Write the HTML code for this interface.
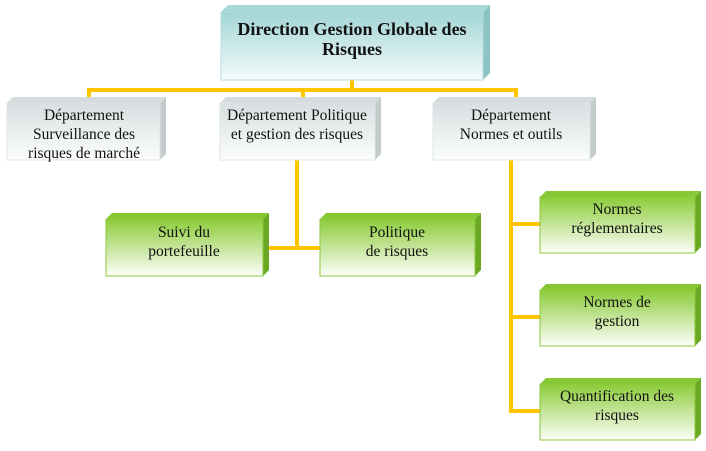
<!DOCTYPE html>
<html><head><meta charset="utf-8"><style>
html,body{margin:0;padding:0;background:#fff;width:706px;height:451px;overflow:hidden}
text{font-family:"Liberation Serif",serif;fill:#111;text-anchor:middle}
</style></head><body>
<svg width="706" height="451" viewBox="0 0 706 451" xmlns="http://www.w3.org/2000/svg">
<defs>
<linearGradient id="gt" x1="0" y1="0" x2="0" y2="1"><stop offset="0" stop-color="#a3d5d5"/><stop offset="1" stop-color="#f6fbfb"/></linearGradient>
<linearGradient id="gg" x1="0" y1="0" x2="0" y2="1"><stop offset="0" stop-color="#d8dfe0"/><stop offset="1" stop-color="#fcfdfd"/></linearGradient>
<linearGradient id="gn" x1="0" y1="0" x2="0" y2="1"><stop offset="0" stop-color="#8ccc3a"/><stop offset="1" stop-color="#fdfefa"/></linearGradient>
</defs>
<g stroke="#ffc600" stroke-width="4" fill="none">
<path d="M352 80 V90 M89 90 H518 M89 88 V100 M303 88 V100 M516 88 V100"/>
<path d="M297 160 V248 M263 248 H320"/>
<path d="M511 160 V411 M509 224 H540 M509 317 H540 M509 411 H540"/>
</g>
<g>
<polygon points="221,12 228,5 490,5 483,12" fill="#a9d8d8"/>
<polygon points="483,12 490,5 490,73 483,80" fill="#8cc4c4"/>
<rect x="221" y="12" width="262" height="68" fill="url(#gt)" stroke="#b5dcdc"/>
<text x="352" y="35" font-size="18" font-weight="bold">Direction Gestion Globale des</text>
<text x="352" y="55" font-size="18" font-weight="bold">Risques</text>
</g>
<g font-size="15.5">
<polygon points="7,103 13,97 166,97 160,103" fill="#d5dcdd"/>
<polygon points="160,103 166,97 166,154 160,160" fill="#c3cbcc"/>
<rect x="7" y="103" width="153" height="57" fill="url(#gg)" stroke="#dfe5e5"/>
<text x="84" y="120">Département</text>
<text x="84" y="139">Surveillance des</text>
<text x="84" y="158">risques de marché</text>
<polygon points="220,103 226,97 381,97 375,103" fill="#d5dcdd"/>
<polygon points="375,103 381,97 381,154 375,160" fill="#c3cbcc"/>
<rect x="220" y="103" width="155" height="57" fill="url(#gg)" stroke="#dfe5e5"/>
<text x="297" y="120">Département Politique</text>
<text x="297" y="139">et gestion des risques</text>
<polygon points="433,103 439,97 596,97 590,103" fill="#d5dcdd"/>
<polygon points="590,103 596,97 596,154 590,160" fill="#c3cbcc"/>
<rect x="433" y="103" width="157" height="57" fill="url(#gg)" stroke="#dfe5e5"/>
<text x="511" y="120">Département</text>
<text x="511" y="139">Normes et outils</text>
</g>
<g font-size="15.5">
<polygon points="106,219 112,213 269,213 263,219" fill="#86c834"/>
<polygon points="263,219 269,213 269,270 263,276" fill="#6aa824"/>
<rect x="106" y="219" width="157" height="57" fill="url(#gn)" stroke="#8cc83c"/>
<text x="184" y="237">Suivi du</text>
<text x="184" y="256">portefeuille</text>
<polygon points="320,219 326,213 481,213 475,219" fill="#86c834"/>
<polygon points="475,219 481,213 481,270 475,276" fill="#6aa824"/>
<rect x="320" y="219" width="155" height="57" fill="url(#gn)" stroke="#8cc83c"/>
<text x="397" y="237">Politique</text>
<text x="397" y="256">de risques</text>

<polygon points="540,197 546,191 701,191 695,197" fill="#86c834"/>
<polygon points="695,197 701,191 701,247 695,253" fill="#6aa824"/>
<rect x="540" y="197" width="155" height="56" fill="url(#gn)" stroke="#8cc83c"/>
<text x="617" y="214">Normes</text>
<text x="617" y="233">réglementaires</text>
<polygon points="540,290 546,284 701,284 695,290" fill="#86c834"/>
<polygon points="695,290 701,284 701,340 695,346" fill="#6aa824"/>
<rect x="540" y="290" width="155" height="56" fill="url(#gn)" stroke="#8cc83c"/>
<text x="617" y="307">Normes de</text>
<text x="617" y="326">gestion</text>
<polygon points="540,384 546,378 701,378 695,384" fill="#86c834"/>
<polygon points="695,384 701,378 701,434 695,440" fill="#6aa824"/>
<rect x="540" y="384" width="155" height="56" fill="url(#gn)" stroke="#8cc83c"/>
<text x="617" y="401">Quantification des</text>
<text x="617" y="420">risques</text>
</g>
</svg>
</body></html>
